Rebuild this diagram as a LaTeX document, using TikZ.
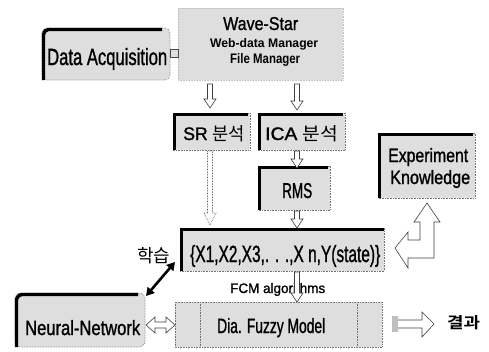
\documentclass[tikz,border=0pt]{standalone}
\usepackage{fontspec}
\usepackage{graphicx}
\setmainfont{Liberation Sans}
\newfontfamily\hv[FakeBold=1.3]{Liberation Sans}
\newfontfamily\hvb{Liberation Sans Bold}
\newfontfamily\kr{Noto Sans CJK KR}
\newfontfamily\krb{Noto Sans CJK KR Bold}
\usetikzlibrary{arrows.meta,calc}
\tikzset{
  stip/.style={fill=black!13, draw=black!55, densely dotted, line width=0.6pt},
  harrow/.style={fill=white, draw=black!75, line width=0.6pt},
  shadowtl/.style={line width=3.4pt, black},
  lbl/.style={inner sep=0pt, anchor=base west},
}
\newcommand{\fitt}[3]{\resizebox{#1pt}{#2pt}{#3}}
\newcommand{\vhollow}[3]{%
  \draw[harrow] (#1-2.5,#2) -- (#1+2.5,#2) -- (#1+2.5,#3-9) -- (#1+6,#3-9) -- (#1,#3) -- (#1-6,#3-9) -- (#1-2.5,#3-9) -- cycle;}
\begin{document}
\begin{tikzpicture}[x=1pt,y=-1pt]
\useasboundingbox (0,0) rectangle (489,351);
% Wave-Star
\draw[stip, draw=black!25] (178,8) rectangle (343,80);
\node[lbl] (wst) at (223,30) {\fitt{75}{13}{\hv Wave-Star}};
\node[lbl] (wdm) at (210,47) {\fitt{108}{9}{\hvb Web-data Manager}};
\node[lbl] (fm) at (230,63) {\fitt{70}{10}{\hvb File Manager}};
% Data Acquisition
\draw[stip, rounded corners=5pt] (42,28) rectangle (170,80);
\draw[shadowtl, rounded corners=5pt] (43.5,80) -- (43.5,29.5) -- (162,29.5);
\node[lbl] (da) at (47,65) {\fitt{120}{17}{\hv Data Acquisition}};
\draw[fill=black!13, draw=black!70, line width=0.5pt] (170,49) rectangle (178,57);
% SR / ICA
\draw[stip] (173,113) rectangle (250,150);
\draw[shadowtl] (174.5,150) -- (174.5,114.5) -- (248,114.5);
\node[lbl] (sr) at (183,140) {\fitt{62}{15}{\hv SR {\kr 분석}}};
\draw[stip] (258,113) rectangle (345,150);
\draw[shadowtl] (259.5,150) -- (259.5,114.5) -- (343,114.5);
\node[lbl] (ica) at (265,140) {\fitt{73}{15}{\hv ICA {\kr 분석}}};
% RMS
\draw[stip] (258,166) rectangle (330,210);
\draw[shadowtl] (259.5,210) -- (259.5,167.5) -- (328,167.5);
\node[lbl] (rms) at (282,198) {\fitt{30}{15}{\hv RMS}};
% Experiment Knowledge
\draw[stip] (378,133) rectangle (475,198);
\draw[shadowtl] (379.5,198) -- (379.5,134.5) -- (473,134.5);
\node[lbl] (ek1) at (388,162) {\fitt{80}{14}{\hv Experiment}};
\node[lbl] (ek2) at (390,184) {\fitt{80}{14}{\hv Knowledge}};
% X box
\draw[stip] (180,228) rectangle (384,271);
\draw[shadowtl] (181.5,271) -- (181.5,229.5) -- (384,229.5);
\node[lbl] (xs) at (190,262) {\fitt{190}{17}{\hv\{X1,X2,X3,. . .,X n,Y(state)\}}};
% Neural network
\draw[stip, rounded corners=6pt] (15,293) rectangle (145,347);
\draw[shadowtl, rounded corners=6pt] (16.5,347) -- (16.5,294.5) -- (138,294.5);
\node[lbl] (nn) at (25,335) {\fitt{115}{15}{\hv Neural-Network}};
% Dia Fuzzy Model
\draw[stip] (175,302) rectangle (382,347);
\draw[black!55, densely dotted, line width=0.6pt] (200,302) -- (200,347) (357,302) -- (357,347);
\node[lbl] (dfm) at (217,333) {\fitt{108}{15}{\hv Dia. Fuzzy Model}};
\node[lbl] (fcm) at (230,293) {\fitt{95}{10}{\hv FCM algorithms}};
% hollow arrows
\vhollow{210}{84}{108}
\vhollow{297}{84}{110}
\vhollow{297}{151}{168}
\vhollow{297}{211}{228}
\draw[harrow, densely dotted] (207.5,151) -- (212.5,151) -- (212.5,213) -- (216,213) -- (210,225) -- (204,213) -- (207.5,213) -- cycle;
\vhollow{297}{272}{302}
% bent arrow
\draw[harrow] (427,203) -- (440,222) -- (434,222) -- (434,258) -- (408,258) -- (408,268) -- (395,248) -- (408,232) -- (408,240) -- (420,240) -- (420,222) -- (414,222) -- cycle;
% double hollow arrow NN-Dia
\draw[harrow] (146,325) -- (155,317) -- (155,322) -- (166,322) -- (166,317) -- (175,325) -- (166,333) -- (166,328) -- (155,328) -- (155,333) -- cycle;
% right arrow
\fill[black!25] (392,316) rectangle (398,332);
\draw[harrow] (398,320) -- (422,320) -- (422,312) -- (434,324) -- (422,337) -- (422,328) -- (398,328);
\node[lbl] (res) at (447,328) {\fitt{33}{13}{\krb 결과}};
% learning arrow
\draw[line width=2.6pt, {Triangle[length=8pt,width=9pt]}-{Triangle[length=8pt,width=9pt]}] (175,262) -- (146,296);
\node[lbl] (lr) at (137,262) {\fitt{33}{15}{\kr 학습}};
\end{tikzpicture}
\end{document}
